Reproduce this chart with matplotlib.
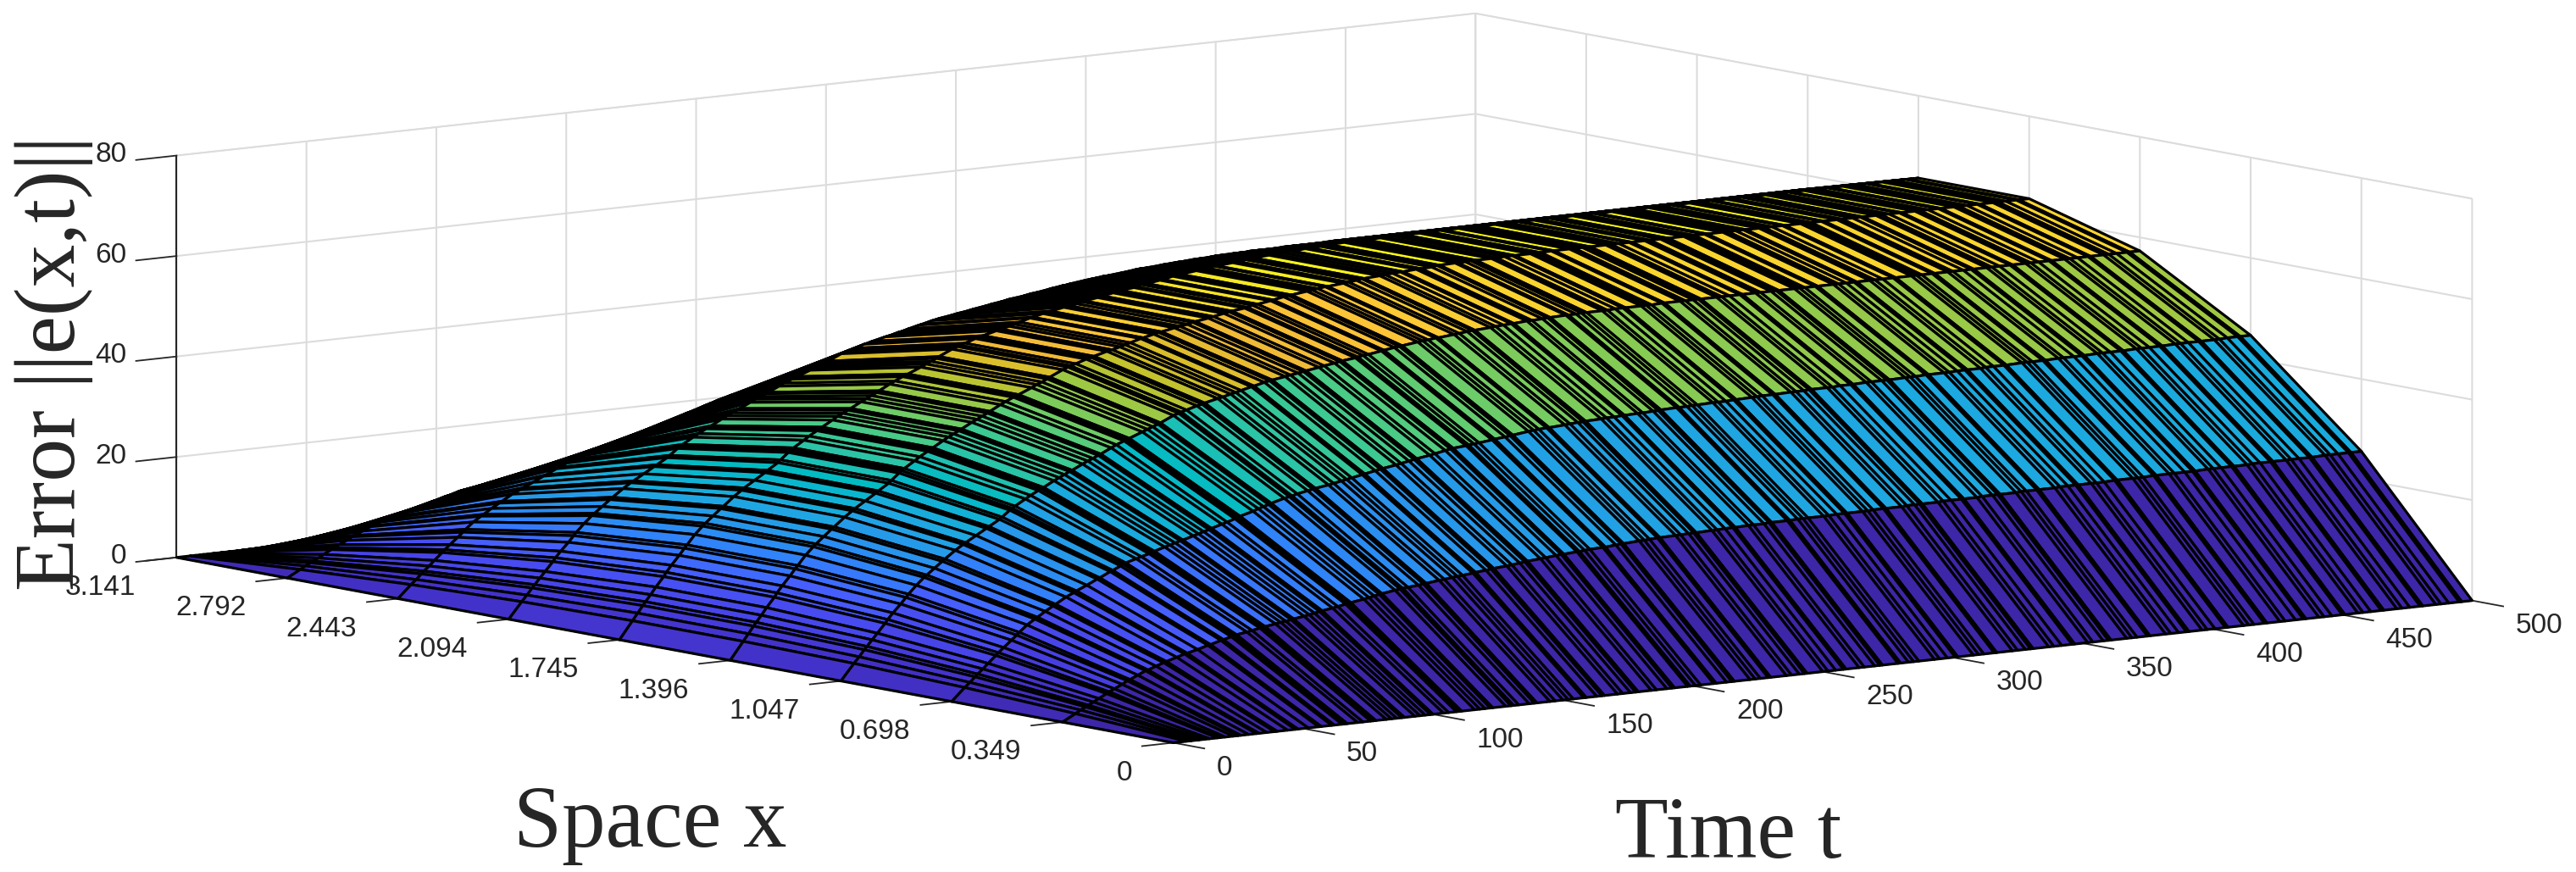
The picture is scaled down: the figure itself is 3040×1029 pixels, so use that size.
import numpy as np
import matplotlib
matplotlib.use("Agg")
import matplotlib.pyplot as plt
from matplotlib.colors import LinearSegmentedColormap, Normalize

# x ticks / surface columns
space_x = [0, 0.349, 0.698, 1.047, 1.396, 1.745, 2.094, 2.443, 2.792, 3.141]
space_labels = ['0', '0.349', '0.698', '1.047', '1.396', '1.745', '2.094', '2.443', '2.792', '3.141']
time_ticks = [0, 50, 100, 150, 200, 250, 300, 350, 400, 450, 500]
error_ticks = [0, 20, 40, 60, 80]

# solver time steps
time_rows = [0, 5, 7, 9, 10, 12, 14, 17, 18, 20,
             23, 25, 26, 29, 32, 33, 36, 39, 40, 44,
             47, 48, 52, 56,
             57, 61, 62, 65, 66, 67, 71, 73, 76, 77,
             78, 82, 84, 86, 88, 89, 93, 95, 97, 99,
             100, 104, 106, 109, 110, 111, 116, 118, 120, 122,
             123, 128, 130, 131, 133, 137, 139, 140, 145, 147,
             150, 152, 154, 158, 159, 163, 165, 166, 171, 173,
             176, 178, 179, 184, 186, 190, 192, 193, 198, 199,
             201, 203, 208, 209, 213, 215, 216, 222, 224, 226,
             229, 230, 236, 238, 241, 243, 244, 250, 252, 255,
             258, 259, 264, 266, 270, 272, 273, 279, 280, 283,
             285, 287, 293, 295, 298, 301, 302, 308, 310, 312,
             316,
             317, 323, 325, 328, 330, 331, 337, 339, 342, 346,
             347, 352, 354, 358, 360, 361, 367, 369, 371, 375,
             376, 382, 384, 387, 390, 391, 396, 398, 401, 405,
             406, 412, 414, 416, 420, 421, 426, 428, 432, 435,
             436, 441, 443, 446, 450, 451, 456, 458, 461, 465,
             466, 471, 473, 476, 480, 481, 486, 488, 491, 495,
             496, 500]

# error at x=0.349 (and 2.792)
err_a = [0, 1.4, 2.0, 2.5, 2.8, 3.3, 3.9, 4.7, 5.0, 5.5,
         6.2, 6.8, 7.0, 7.7, 8.4, 8.5, 9.1, 9.6, 9.8, 10.4,
         10.9, 11.0, 11.5, 12.1,
         12.2, 12.8, 12.9, 13.3, 13.5, 13.6, 13.9, 14.1, 14.4, 14.5,
         14.6, 14.9, 15.1, 15.2, 15.4, 15.5, 15.8, 16.0, 16.2, 16.4,
         16.5, 16.8, 17.0, 17.3, 17.4, 17.5, 17.9, 18.1, 18.3, 18.5,
         18.6, 19.0, 19.1, 19.2, 19.3, 19.5, 19.6, 19.7, 20.0, 20.1,
         20.3, 20.4, 20.5, 20.7, 20.8, 21.0, 21.1, 21.2, 21.4, 21.5,
         21.7, 21.8, 21.9, 22.1, 22.2, 22.4, 22.5, 22.5, 22.7, 22.7,
         22.8, 22.9, 23.0, 23.0, 23.2, 23.3, 23.3, 23.5, 23.5, 23.6,
         23.7, 23.7, 23.8, 23.8, 23.9, 23.9, 23.9, 24.0, 24.0, 24.1,
         24.1, 24.1, 24.2, 24.2, 24.2, 24.3, 24.3, 24.3, 24.3, 24.4,
         24.4, 24.4, 24.4, 24.4, 24.5, 24.5, 24.5, 24.5, 24.5, 24.6,
         24.6,
         24.6, 24.6, 24.7, 24.7, 24.7, 24.7, 24.7, 24.8, 24.8, 24.8,
         24.8, 24.8, 24.9, 24.9, 24.9, 24.9, 24.9, 25.0, 25.0, 25.0,
         25.0, 25.0, 25.1, 25.1, 25.1, 25.1, 25.1, 25.1, 25.1, 25.2,
         25.2, 25.2, 25.2, 25.2, 25.3, 25.3, 25.3, 25.3, 25.3, 25.3,
         25.3, 25.4, 25.4, 25.4, 25.4, 25.4, 25.4, 25.5, 25.5, 25.5,
         25.5, 25.5, 25.5, 25.5, 25.5, 25.5, 25.6, 25.6, 25.6, 25.6,
         25.6, 25.6]

# error at x=0.698 (and 2.443)
err_b = [0, 2.5, 3.4, 4.4, 4.9, 5.8, 6.8, 8.2, 8.7, 9.6,
         10.9, 11.8, 12.3, 13.6, 14.6, 14.9, 15.9, 16.8, 17.1, 18.3,
         19.0, 19.3, 20.2, 21.2,
         21.4, 22.4, 22.6, 23.3, 23.6, 23.8, 24.4, 24.7, 25.1, 25.3,
         25.5, 26.1, 26.4, 26.7, 27.0, 27.1, 27.7, 28.0, 28.3, 28.6,
         28.8, 29.4, 29.7, 30.2, 30.4, 30.6, 31.3, 31.7, 32.0, 32.3,
         32.5, 33.2, 33.4, 33.5, 33.8, 34.2, 34.4, 34.5, 34.9, 35.1,
         35.4, 35.6, 35.8, 36.2, 36.3, 36.7, 36.9, 37.0, 37.4, 37.6,
         37.9, 38.1, 38.2, 38.6, 38.8, 39.2, 39.4, 39.5, 39.7, 39.8,
         39.9, 40.0, 40.3, 40.4, 40.6, 40.7, 40.8, 41.2, 41.3, 41.4,
         41.5, 41.5, 41.7, 41.8, 41.9, 41.9, 42.0, 42.1, 42.2, 42.2,
         42.3, 42.3, 42.4, 42.4, 42.5, 42.5, 42.6, 42.7, 42.7, 42.7,
         42.8, 42.8, 42.9, 42.9, 42.9, 43.0, 43.0, 43.1, 43.1, 43.2,
         43.2,
         43.2, 43.3, 43.3, 43.3, 43.4, 43.4, 43.4, 43.4, 43.5, 43.5,
         43.5, 43.6, 43.6, 43.6, 43.6, 43.6, 43.7, 43.7, 43.7, 43.8,
         43.8, 43.8, 43.8, 43.9, 43.9, 43.9, 43.9, 44.0, 44.0, 44.0,
         44.0, 44.1, 44.1, 44.1, 44.1, 44.1, 44.2, 44.2, 44.2, 44.2,
         44.2, 44.3, 44.3, 44.3, 44.3, 44.3, 44.4, 44.4, 44.4, 44.4,
         44.4, 44.5, 44.5, 44.5, 44.5, 44.5, 44.5, 44.5, 44.6, 44.6,
         44.6, 44.6]

# error at x=1.047 (and 2.094), flat from t=316 on
err_c = [0, 3.2, 4.4, 5.7, 6.3, 7.5, 8.7, 10.5, 11.2, 12.4,
         14.0, 15.2, 15.8, 17.4, 18.8, 19.2, 20.4, 21.6, 22.0, 23.5,
         24.5, 24.8, 26.0, 27.2,
         27.5, 28.7, 29.1, 30.3, 30.6, 31.0, 32.2, 32.8, 33.6, 33.9,
         34.1, 35.2, 35.7, 36.2, 36.7, 36.9, 37.9, 38.4, 38.8, 39.3,
         39.5, 40.5, 41.0, 41.6, 41.8, 42.0, 43.0, 43.4, 43.8, 44.2,
         44.4, 45.6, 45.9, 46.1, 46.4, 47.0, 47.2, 47.4, 48.0, 48.2,
         48.6, 48.8, 49.1, 49.6, 49.7, 50.2, 50.4, 50.5, 50.9, 51.1,
         51.3, 51.5, 51.6, 52.0, 52.2, 52.5, 52.7, 52.8, 53.1, 53.2,
         53.4, 53.5, 53.9, 54.0, 54.3, 54.4, 54.5, 54.9, 55.0, 55.1,
         55.3, 55.3, 55.6, 55.7, 55.9, 56.0, 56.0, 56.2, 56.3, 56.4,
         56.5, 56.5, 56.7, 56.7, 56.8, 56.9, 56.9, 57.0, 57.0, 57.0,
         57.1, 57.1, 57.1, 57.1, 57.2, 57.2, 57.2, 57.2, 57.2, 57.2,
         57.3] + [57.3] * 62

# error at x=1.396 (and 1.745), flat from t=316 on
err_d = [0, 3.5, 4.9, 6.3, 7.0, 8.3, 9.7, 11.6, 12.4, 13.7,
         15.5, 16.8, 17.4, 19.3, 20.8, 21.3, 22.6, 23.9, 24.3, 26.0,
         27.1, 27.5, 28.8, 30.1,
         30.5, 31.8, 32.3, 33.6, 34.0, 34.4, 35.7, 36.4, 37.3, 37.6,
         37.9, 39.1, 39.7, 40.2, 40.7, 41.0, 42.1, 42.6, 43.1, 43.6,
         43.9, 45.0, 45.5, 46.2, 46.4, 46.6, 47.7, 48.2, 48.6, 49.1,
         49.4, 50.6, 51.0, 51.2, 51.5, 52.2, 52.4, 52.6, 53.3, 53.5,
         53.9, 54.2, 54.5, 55.1, 55.2, 55.7, 55.9, 56.0, 56.5, 56.7,
         56.9, 57.2, 57.3, 57.7, 57.9, 58.3, 58.5, 58.6, 58.9, 59.0,
         59.3, 59.4, 59.8, 59.9, 60.3, 60.4, 60.5, 60.9, 61.0, 61.2,
         61.4, 61.4, 61.7, 61.8, 62.0, 62.2, 62.2, 62.4, 62.5, 62.6,
         62.7, 62.7, 62.9, 62.9, 63.0, 63.2, 63.2, 63.3, 63.3, 63.3,
         63.4, 63.4, 63.4, 63.4, 63.5, 63.5, 63.5, 63.5, 63.5, 63.5,
         63.6] + [63.6] * 62

# MATLAB parula
parula = LinearSegmentedColormap.from_list('parula', [
    (0.2422, 0.1504, 0.6603), (0.2647, 0.1978, 0.7952), (0.2783, 0.2559, 0.8991),
    (0.2813, 0.3006, 0.9414), (0.2760, 0.3667, 0.9829), (0.2206, 0.4603, 0.9973),
    (0.1786, 0.5289, 0.9682), (0.1540, 0.5902, 0.9218), (0.1248, 0.6459, 0.8883),
    (0.0689, 0.6948, 0.8394), (0.0067, 0.7312, 0.7660), (0.1408, 0.7584, 0.6842),
    (0.2161, 0.7843, 0.5923), (0.3406, 0.8008, 0.4789), (0.5044, 0.7993, 0.3480),
    (0.6720, 0.7793, 0.2227), (0.8203, 0.7498, 0.1535), (0.9393, 0.7288, 0.2100),
    (0.9970, 0.7659, 0.2199), (0.9786, 0.8386, 0.1766), (0.9597, 0.9135, 0.1423),
    (0.9769, 0.9839, 0.0805)])

FIG_W, FIG_H = 3040, 1029
SIDE = 2693  # axes square, px
LEFT, BOTTOM = 180, -800
DARK = '#262626'


def main():
    fig = plt.figure(figsize=(FIG_W / 100, FIG_H / 100), dpi=100)
    ax = fig.add_axes([LEFT / FIG_W, BOTTOM / FIG_H, SIDE / FIG_W, SIDE / FIG_H],
                      projection='3d', proj_type='ortho')
    ax.view_init(elev=8.2, azim=-127.5)
    ax.set_box_aspect((1, 1, 0.248))

    zeros = [0] * len(time_rows)
    err = np.column_stack([zeros, err_a, err_b, err_c, err_d,
                           err_d, err_c, err_b, err_a, zeros])
    T, X = np.meshgrid(time_rows, space_x, indexing='ij')

    # flat shading: each cell takes the colour of its first corner
    cvals = err.copy()
    cvals[0] = err[1]
    colors = parula(Normalize(0, err.max())(cvals))
    surf = ax.plot_surface(T, X, err, facecolors=colors, rstride=1, cstride=1,
                           edgecolor='k', linewidth=2.3, shade=False, antialiased=True)
    surf.set_clip_on(False)

    ax.set_xlim(0, 500, view_margin=0)
    ax.set_ylim(0, 3.141, view_margin=0)
    ax.set_zlim(0, 80, view_margin=0)
    ax.set_xticks(time_ticks)
    ax.set_yticks(space_x)
    ax.set_yticklabels(space_labels)
    ax.set_zticks(error_ticks)

    # ticks are flipped through inward_factor, mplot3d points them into the box here
    tick_len = {'x': 0.39, 'y': 0.3, 'z': 0.39}
    for name, axis in (('x', ax.xaxis), ('y', ax.yaxis), ('z', ax.zaxis)):
        axis.set_pane_color((1, 1, 1, 1))
        axis.pane.set_edgecolor('#dcdcdc')
        axis.line.set_color(DARK)
        axis.line.set_linewidth(1.5)
        axis._axinfo['grid'].update(color='#dcdcdc', linewidth=1.5)
        axis._axinfo['tick'].update(outward_factor=0, inward_factor=tick_len[name], linewidth={True: 1.3, False: 1.3})
    for name, pad in (('x', 36), ('y', 24), ('z', 14)):
        ax.tick_params(axis=name, labelsize=24, labelcolor=DARK, color=DARK, pad=pad,
                       labelfontfamily='Liberation Sans')

    for lab in ax.get_xticklabels():
        lab.set_ha('left')
        lab.set_va('center')
    for lab in ax.get_yticklabels():
        lab.set_ha('right')
        lab.set_va('top')
    for lab in ax.get_zticklabels():
        lab.set_ha('right')
        lab.set_va('center')

    serif = dict(family='Liberation Serif', color=DARK)
    fig.text(767 / FIG_W, 1 - 999 / FIG_H, 'Space x', ha='center', va='baseline', fontsize=74, **serif)
    fig.text(2040 / FIG_W, 1 - 1012 / FIG_H, 'Time t', ha='center', va='baseline', fontsize=74, **serif)
    fig.text(88 / FIG_W, 1 - 428 / FIG_H, 'Error ||e(x,t)||', rotation=90, rotation_mode='anchor',
             ha='center', va='baseline', fontsize=73, **serif)

    fig.savefig('out.png', dpi=100, facecolor='white')


if __name__ == "__main__":
    main()
